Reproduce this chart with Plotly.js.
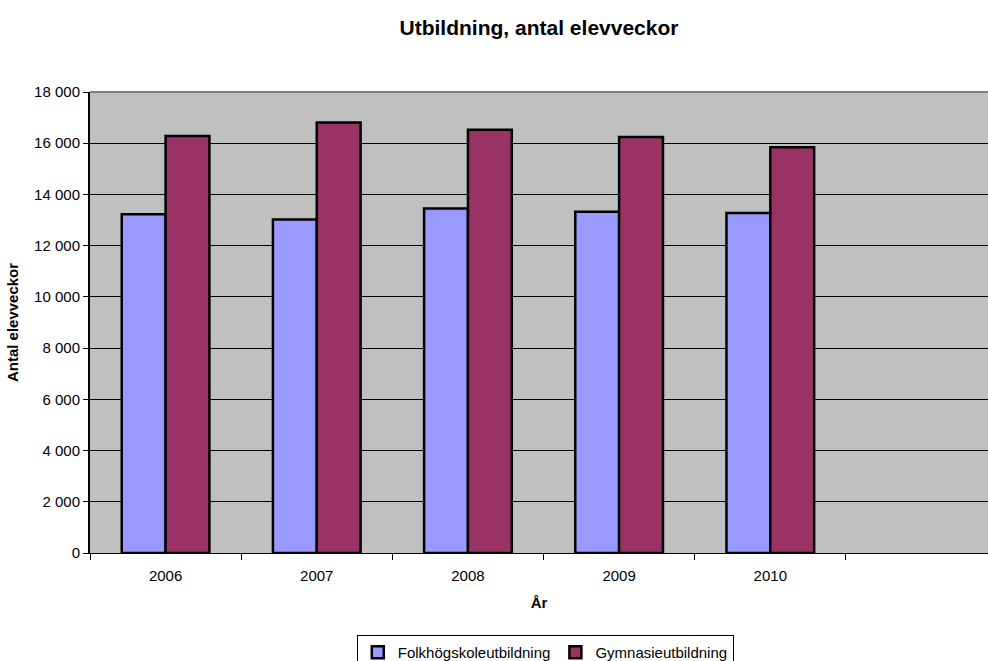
<!DOCTYPE html>
<html>
<head>
<meta charset="utf-8">
<script src="https://cdn.plot.ly/plotly-3.0.1.min.js"></script>
<style>
  html, body { margin: 0; padding: 0; background: #ffffff; }
  #chart { width: 988px; height: 661px; }
</style>
</head>
<body>
<div id="chart"></div>
<script>
// Antal elevveckor per år och utbildningsform
const years = ["2006", "2007", "2008", "2009", "2010"];
const folkhogskola = [13230, 13020, 13450, 13320, 13280];
const gymnasie = [16280, 16810, 16530, 16240, 15840];
const seriesNames = ["Folkhögskoleutbildning", "Gymnasieutbildning"];
const yTicks = [0, 2000, 4000, 6000, 8000, 10000, 12000, 14000, 16000, 18000];

const font = "Liberation Sans, Arial, sans-serif";

const traces = [
  {
    type: "bar",
    name: seriesNames[0],
    x: years,
    y: folkhogskola,
    marker: { color: "#9999FF", line: { color: "#000000", width: 2.5 } },
    hoverinfo: "x+y+name"
  },
  {
    type: "bar",
    name: seriesNames[1],
    x: years,
    y: gymnasie,
    marker: { color: "#993366", line: { color: "#000000", width: 2.5 } },
    hoverinfo: "x+y+name"
  }
];

const layout = {
  width: 988,
  height: 661,
  margin: { l: 90, r: 0, t: 92, b: 108, autoexpand: false },
  paper_bgcolor: "#ffffff",
  plot_bgcolor: "#C0C0C0",
  separators: ", ",
  font: { family: font, size: 15, color: "#000000" },
  barmode: "group",
  bargap: 0.42,
  bargroupgap: 0,
  title: {
    text: "<b>Utbildning, antal elevveckor</b>",
    font: { family: font, size: 21, color: "#000000" },
    x: 0.5,
    xref: "paper",
    xanchor: "center",
    y: 1 - 28 / 661,
    yref: "container",
    yanchor: "middle",
    automargin: false
  },
  xaxis: {
    type: "category",
    categoryorder: "array",
    categoryarray: years,
    range: [-0.5, 5.44],
    tickson: "boundaries",
    ticks: "outside",
    ticklen: 6,
    tickcolor: "#000000",
    tickwidth: 1,
    ticklabelstandoff: 9,
    showline: true,
    linecolor: "#000000",
    linewidth: 1,
    showgrid: false,
    zeroline: false,
    automargin: false,
    tickfont: { family: font, size: 15, color: "#000000" },
    title: {
      text: "<b>År</b>",
      font: { family: font, size: 15, color: "#000000" },
      standoff: 14
    },
    fixedrange: true
  },
  yaxis: {
    range: [0, 18000],
    tickvals: yTicks,
    tickformat: ",d",
    ticks: "outside",
    ticklen: 5,
    tickcolor: "#000000",
    tickwidth: 1,
    showline: true,
    linecolor: "#000000",
    linewidth: 2,
    showgrid: true,
    gridcolor: "#000000",
    gridwidth: 1,
    zeroline: false,
    automargin: false,
    tickfont: { family: font, size: 15, color: "#000000" },
    title: {
      text: "<b>Antal elevveckor</b>",
      font: { family: font, size: 15, color: "#000000" },
      standoff: 12
    },
    fixedrange: true
  },
  shapes: [
    {
      type: "line",
      xref: "paper", yref: "paper",
      x0: 0, x1: 1, y0: 1, y1: 1,
      line: { color: "#808080", width: 2 }
    }
  ],
  showlegend: true,
  legend: {
    orientation: "h",
    x: 0.507,
    xanchor: "center",
    xref: "paper",
    y: (661 - 635) / 661,
    yanchor: "top",
    yref: "container",
    bgcolor: "#ffffff",
    bordercolor: "#000000",
    borderwidth: 1,
    itemwidth: 30,
    font: { family: font, size: 15, color: "#000000" },
    traceorder: "normal"
  }
};

Plotly.newPlot("chart", traces, layout, { displayModeBar: false, staticPlot: true });
</script>
</body>
</html>
